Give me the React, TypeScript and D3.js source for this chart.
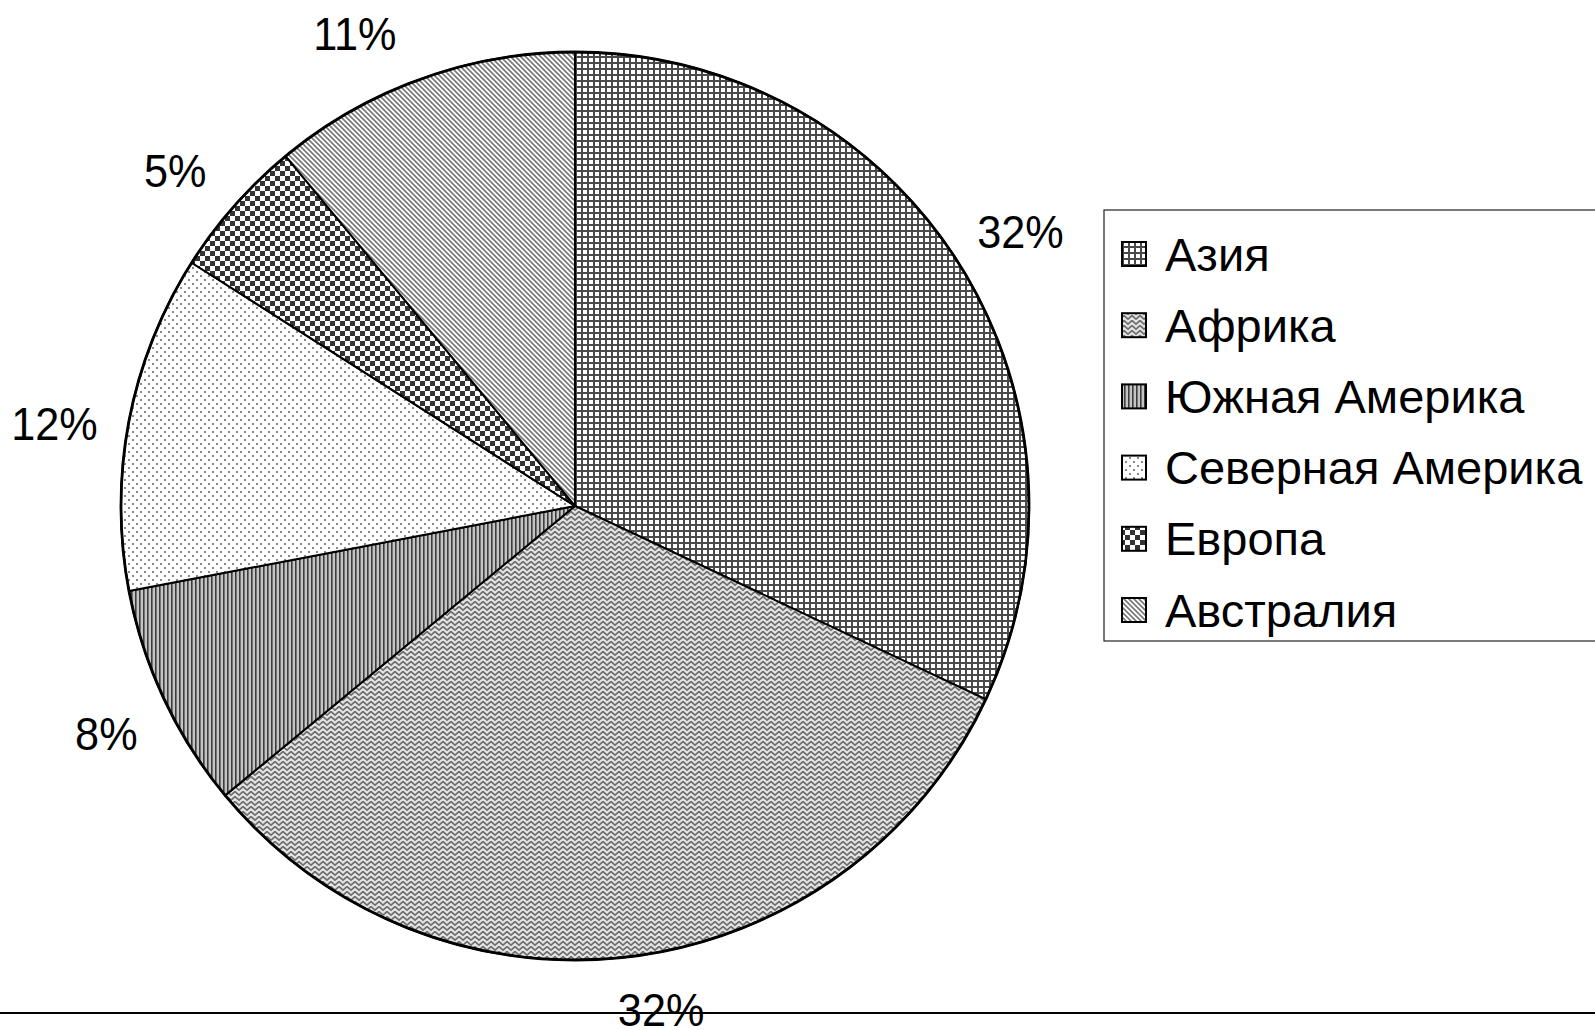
import React from "react";
import * as d3 from "d3";

const regions = ["Азия", "Африка", "Южная Америка", "Северная Америка", "Европа", "Австралия"];
const shares = [32, 32, 8, 12, 5, 11];
const patternIds = ["grid", "weave", "vstripe", "dots", "checker", "diag"];

// Data-label placement: distance of the label centre beyond the rim and a small angular shift (degrees)
const labelOffset = [69, 57, 67, 73, 68, 67];
const labelShift = [0.8, -2.5, -0.7, -1.8, -1.4, -5.2];

const W = 1595;
const H = 1030;
const cx = 575;
const cy = 506;
const R = 454;
const FONT = "'Liberation Sans', Arial, sans-serif";
const FS = 47;

function Patterns() {
  return (
    <defs>
      <pattern id="grid" width={6} height={6} patternUnits="userSpaceOnUse">
        <rect width={6} height={6} fill="#fff" />
        <rect x={0} y={0} width={6} height={2} fill="#4a4a4a" />
        <rect x={0} y={0} width={2} height={6} fill="#4a4a4a" />
      </pattern>
      <pattern id="weave" width={8} height={5} patternUnits="userSpaceOnUse">
        <rect width={8} height={5} fill="#e4e4e4" />
        <path d="M-1,5 L4,0.5 L9,5" fill="none" stroke="#6e6e6e" strokeWidth={1.7} />
        <path d="M-1,0 L0,-0.9 M8,-0.9 L9,0" fill="none" stroke="#6e6e6e" strokeWidth={1.7} />
      </pattern>
      <pattern id="vstripe" width={4} height={4} patternUnits="userSpaceOnUse">
        <rect width={4} height={4} fill="#c4c4c4" />
        <rect x={0} y={0} width={1.6} height={4} fill="#3c3c3c" />
      </pattern>
      <pattern id="dots" width={8} height={8} patternUnits="userSpaceOnUse">
        <rect width={8} height={8} fill="#fff" />
        <rect x={1} y={1} width={2} height={2} fill="#8a8a8a" />
        <rect x={5} y={5} width={2} height={2} fill="#8a8a8a" />
      </pattern>
      <pattern id="checker" width={10} height={10} patternUnits="userSpaceOnUse">
        <rect width={10} height={10} fill="#fff" />
        <rect x={0} y={0} width={5} height={5} fill="#333" />
        <rect x={5} y={5} width={5} height={5} fill="#333" />
      </pattern>
      <pattern id="diag" width={5} height={5} patternUnits="userSpaceOnUse">
        <rect width={5} height={5} fill="#fff" />
        <path d="M-1,-1 L6,6 M-1,4 L1,6 M4,-1 L6,1" stroke="#7a7a7a" strokeWidth={1.7} />
      </pattern>
    </defs>
  );
}

export default function App() {
  const pie = d3.pie<number>().sort(null).value((d) => d);
  const arcs = pie(shares);
  const arcGen = d3.arc<d3.PieArcDatum<number>>().innerRadius(0).outerRadius(R);

  const legendX = 1104;
  const legendTop = 210;
  const legendBottom = 641;
  const rowY = d3.scalePoint<string>().domain(regions).range([254, 610]);

  return (
    <svg
      width={W}
      height={H}
      style={{ position: "absolute", left: 0, top: 0, background: "#fff" }}
      fontFamily={FONT}
    >
      <Patterns />
      <rect width={W} height={H} fill="#fff" />

      <g transform={`translate(${cx},${cy})`}>
        {arcs.map((a, i) => (
          <path key={i} d={arcGen(a) || ""} fill={`url(#${patternIds[i]})`} stroke="#000" strokeWidth={2} strokeLinejoin="round" />
        ))}
        <circle r={R} fill="none" stroke="#000" strokeWidth={2.8} />
      </g>

      <line x1={0} x2={W} y1={1013} y2={1013} stroke="#000" strokeWidth={2} />

      {arcs.map((a, i) => {
        const mid = (a.startAngle + a.endAngle) / 2 + (labelShift[i] * Math.PI) / 180;
        const r = R + labelOffset[i];
        const x = cx + r * Math.sin(mid);
        const y = cy - r * Math.cos(mid);
        return (
          <text
            key={i}
            transform={`translate(${x},${y}) scale(0.92,1)`}
            textAnchor="middle"
            dominantBaseline="central"
            fontSize={FS}
            fill="#000"
          >
            {`${shares[i]}%`}
          </text>
        );
      })}

      <rect x={legendX} y={legendTop} width={W} height={legendBottom - legendTop} fill="#fff" stroke="#222" strokeWidth={1.2} />
      {regions.map((r, i) => {
        const y = rowY(r) as number;
        return (
          <g key={r}>
            <rect x={1122} y={y - 12} width={24} height={24} fill={`url(#${patternIds[i]})`} stroke="#000" strokeWidth={2} />
            <text x={1165} y={y} dominantBaseline="central" fontSize={FS} fill="#000">
              {r}
            </text>
          </g>
        );
      })}
    </svg>
  );
}
